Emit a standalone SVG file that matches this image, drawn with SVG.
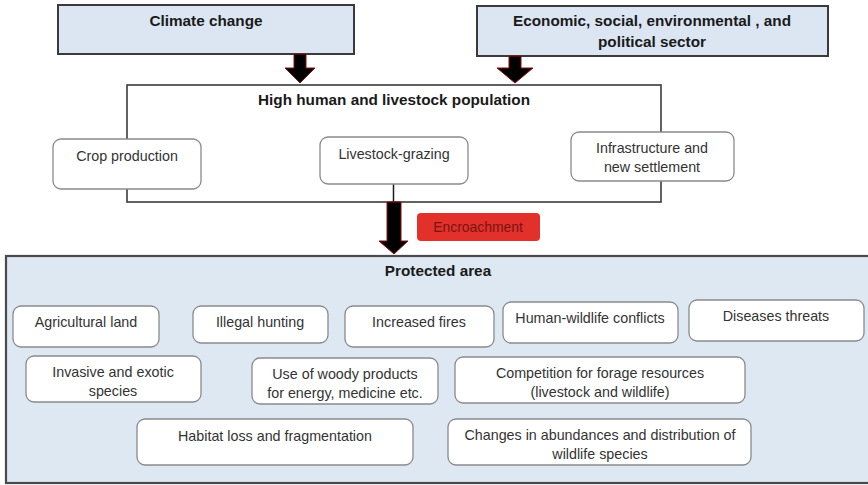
<svg xmlns="http://www.w3.org/2000/svg" width="868" height="485" viewBox="0 0 868 485">
<style>
.top{fill:#dce6f2;stroke:#3a3a3a;stroke-width:2}
.frame{fill:#ffffff;stroke:#3a3a3a;stroke-width:1.6}
.pa{fill:#dee8f3;stroke:#4a4a4a;stroke-width:2.2}
.box{fill:#ffffff;stroke:#8a8a8a;stroke-width:1.3}
.b{font-family:"Liberation Sans",Arial,sans-serif;font-weight:bold;font-size:15.3px;fill:#1a1a1a;text-anchor:middle}
.t{font-family:"Liberation Sans",Arial,sans-serif;font-size:14.3px;fill:#333333;text-anchor:middle}
.arr{fill:#000000;stroke:#8b0f0f;stroke-width:1}
</style>
<g id="climate-change">
<rect class="top" x="58" y="5" width="296" height="49"/>
<text class="b" x="206" y="26">Climate change</text>
</g>
<g id="economic-sector">
<rect class="top" x="477" y="6" width="351" height="50"/>
<text class="b" x="652" y="26">Economic, social, environmental , and</text>
<text class="b" x="652" y="47">political sector</text>
</g>
<g id="high-population">
<rect class="frame" x="127" y="85" width="534" height="117"/>
<text class="b" x="394" y="105">High human and livestock population</text>
</g>
<g id="connectors">
<path class="arr" d="M294,54 H306 V68 H315 L300,83 L285,68 H294 Z"/>
<path class="arr" d="M509,56 H521 V68 H533 L515,83 L497,68 H509 Z"/>
<line x1="393.5" y1="184" x2="393.5" y2="202" stroke="#1a1a1a" stroke-width="1.5"/>
<path class="arr" d="M387,202 H401 V241 H408 L394,254 L379,241 H387 Z"/>
</g>
<g id="crop-production">
<rect class="box" x="53" y="139" width="148" height="50" rx="8"/>
<text class="t" x="127" y="161">Crop production</text>
</g>
<g id="livestock-grazing">
<rect class="box" x="320" y="137" width="148" height="47" rx="8"/>
<text class="t" x="394" y="159">Livestock-grazing</text>
</g>
<g id="infrastructure">
<rect class="box" x="571" y="132" width="163" height="49" rx="8"/>
<text class="t" x="652" y="153">Infrastructure  and</text>
<text class="t" x="652" y="172">new settlement</text>
</g>
<g id="encroachment">
<rect x="417" y="213" width="123" height="28" rx="4" fill="#e2302a"/>
<text class="t" x="478" y="232" style="fill:#7a1414;font-size:13.9px">Encroachment</text>
</g>
<g id="protected-area">
<rect class="pa" x="6" y="256" width="870" height="227"/>
<text class="b" x="438" y="276">Protected area</text>
</g>
<g id="agricultural-land">
<rect class="box" x="13" y="306" width="146" height="41" rx="8"/>
<text class="t" x="86" y="327">Agricultural land</text>
</g>
<g id="illegal-hunting">
<rect class="box" x="193" y="306" width="135" height="37" rx="8"/>
<text class="t" x="260" y="327">Illegal hunting</text>
</g>
<g id="increased-fires">
<rect class="box" x="345" y="306" width="149" height="41" rx="8"/>
<text class="t" x="419" y="327">Increased fires</text>
</g>
<g id="human-wildlife-conflicts">
<rect class="box" x="503" y="302" width="175" height="41" rx="8"/>
<text class="t" x="590" y="323">Human-wildlife  conflicts</text>
</g>
<g id="diseases-threats">
<rect class="box" x="689" y="300" width="175" height="41" rx="8"/>
<text class="t" x="776" y="321">Diseases  threats</text>
</g>
<g id="invasive-species">
<rect class="box" x="26" y="356" width="175" height="46" rx="8"/>
<text class="t" x="113" y="377">Invasive  and exotic</text>
<text class="t" x="113" y="396">species</text>
</g>
<g id="woody-products">
<rect class="box" x="252" y="358" width="186" height="46" rx="8"/>
<text class="t" x="345" y="379">Use of woody products</text>
<text class="t" x="345" y="398">for energy, medicine etc.</text>
</g>
<g id="competition-forage">
<rect class="box" x="455" y="357" width="290" height="46" rx="8"/>
<text class="t" x="600" y="378">Competition for forage resources</text>
<text class="t" x="600" y="397">(livestock and wildlife)</text>
</g>
<g id="habitat-loss">
<rect class="box" x="137" y="419" width="276" height="46" rx="8"/>
<text class="t" x="275" y="441">Habitat loss and fragmentation</text>
</g>
<g id="abundance-changes">
<rect class="box" x="448" y="419" width="303" height="46" rx="8"/>
<text class="t" x="600" y="440">Changes in abundances and distribution of</text>
<text class="t" x="600" y="459">wildlife species</text>
</g>
</svg>
